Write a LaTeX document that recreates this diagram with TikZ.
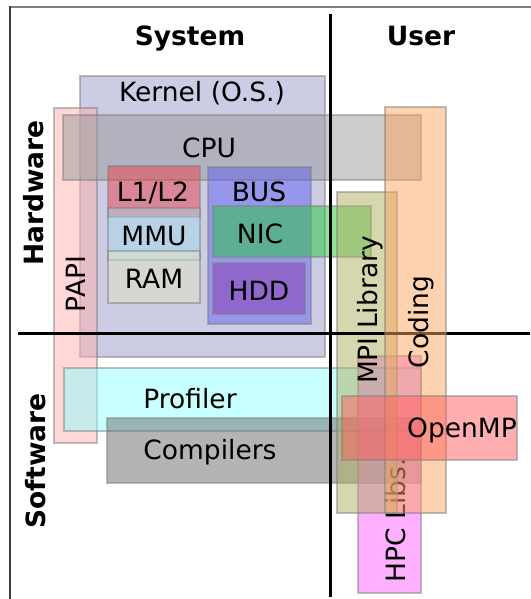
\documentclass[tikz,border=0pt]{standalone}
\usepackage{fontspec}
\setmainfont{DejaVu Sans}
\definecolor{kernelcol}{RGB}{153,153,201}
\definecolor{papicol}{RGB}{255,175,175}
\definecolor{cpucol}{RGB}{153,153,153}
\definecolor{cachecol}{RGB}{235,65,75}
\definecolor{mmucol}{RGB}{166,216,232}
\definecolor{ramcol}{RGB}{225,225,195}
\definecolor{buscol}{RGB}{96,96,242}
\definecolor{niccol}{RGB}{40,200,60}
\definecolor{hddcol}{RGB}{140,60,175}
\definecolor{mpicol}{RGB}{175,175,95}
\definecolor{codingcol}{RGB}{250,165,95}
\definecolor{profcol}{RGB}{145,255,255}
\definecolor{compcol}{RGB}{105,105,105}
\definecolor{ompcol}{RGB}{255,95,95}
\definecolor{hpccol}{RGB}{255,95,255}
\tikzset{
  layer/.style={draw=gray, line width=1.5pt, fill opacity=0.5, draw opacity=0.5},
  lbl/.style={inner sep=0pt, anchor=base, font=\fontsize{26.5}{30}\selectfont},
  head/.style={lbl, font=\fontsize{26.5}{30}\selectfont\bfseries},
  divider/.style={line width=3pt},
}
\begin{document}
\begin{tikzpicture}[x=1pt, y=-1pt]
  \useasboundingbox (0,0) rectangle (530,599);
  % frame
  \draw[gray, line width=2pt] (10,7) -- (531,7);
  \draw[black!75, line width=1.5pt] (10,600) -- (10,6);
  % headings
  \node[head] (system) at (190,46) {System};
  \node[head] (user) at (421,46) {User};
  \node[head, rotate=90] (hardware) at (43,193) {Hardware};
  \node[head, rotate=90] (software) at (45,461) {Software};
  % system side
  \path[layer, fill=kernelcol] (80,76) rectangle (325,357);
  \node[lbl] (kernel) at (202,102) {Kernel (O.S.)};
  \path[layer, fill=papicol] (54,108) rectangle (97,443);
  \path[layer, fill=cpucol] (63,115) rectangle (421,180);
  \node[lbl] (cpu) at (209,157) {CPU};
  \path[layer, fill=cachecol] (108,166) rectangle (200,217);
  \node[lbl] (cache) at (153,201) {L1/L2};
  \path[layer, fill=mmucol] (108,208) rectangle (200,260);
  \node[lbl] (mmu) at (154,245) {MMU};
  \path[layer, fill=ramcol] (108,251) rectangle (200,303);
  \node[lbl] (ram) at (154,288) {RAM};
  \path[layer, fill=buscol] (208,167) rectangle (311,324);
  \node[lbl] (bus) at (259,201) {BUS};
  \path[layer, fill=niccol] (213,206) rectangle (371,257);
  \node[lbl] (nic) at (260,243) {NIC};
  \path[layer, fill=hddcol] (213,263) rectangle (305,314);
  \node[lbl] (hdd) at (259,300) {HDD};
  \node[lbl, rotate=90] (papi) at (85,284) {PAPI};
  \path[layer, fill=profcol] (64,368) rectangle (421,431);
  \node[lbl] (profiler) at (190,408) {Profiler};
  \path[layer, fill=compcol] (107,418) rectangle (421,483);
  \node[lbl] (compilers) at (210,459) {Compilers};
  % user side
  \path[layer, fill=hpccol] (358,356) rectangle (421,593);
  \node[lbl, rotate=90] (hpc) at (405,520) {HPC Libs.};
  \path[layer, fill=mpicol] (337,192) rectangle (397,513);
  \node[lbl, rotate=90] (mpi) at (377,310) {MPI Library};
  % dividers
  \draw[divider] (330,14) -- (330,597);
  \draw[divider] (18,333) -- (530,333);
  \path[layer, fill=codingcol] (385,107) rectangle (446,513);
  \node[lbl, rotate=90] (coding) at (428,322) {Coding};
  \path[layer, fill=ompcol] (342,396) rectangle (517,460);
  \node[lbl] (openmp) at (462,437) {OpenMP};
\end{tikzpicture}
\end{document}
